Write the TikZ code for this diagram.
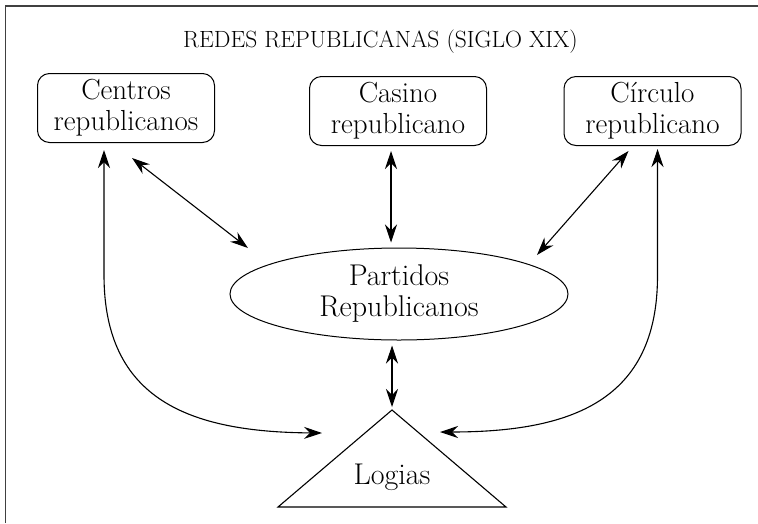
\documentclass[tikz,border=0pt]{standalone}
\usepackage{fontspec}
\usetikzlibrary{shapes.geometric, arrows.meta}
\begin{document}
\begin{tikzpicture}[x=1pt,y=-1pt,
  box/.style={draw, rounded corners=12pt, minimum width=177pt, minimum height=69pt,
    inner sep=0pt, align=center, font=\fontsize{29}{31}\selectfont, line width=1pt},
  oval/.style={draw, ellipse, minimum width=338pt, minimum height=92pt, inner sep=0pt,
    align=center, font=\fontsize{30}{31}\selectfont, line width=1pt},
  link/.style={{Stealth[length=18pt,width=12pt,inset=6pt]}-{Stealth[length=18pt,width=12pt,inset=6pt]}, line width=1.1pt},
  frame/.style={line width=1.5pt, black!75}
  ]
\useasboundingbox (0,0) rectangle (758,523);
\draw[frame] (5.5,523) -- (5.5,6) -- (758,6);

\node[anchor=base, font=\fontsize{23.5}{26}\selectfont] (title) at (380.5,47) {REDES REPUBLICANAS (SIGLO XIX)};

\node[box] (centros) at (126,108) {Centros\\republicanos};
\node[box] (casino) at (398,111) {Casino\\republicano};
\node[box] (circulo) at (652.5,111) {Círculo\\republicano};

\node[oval] (partidos) at (399,294) {Partidos\\Republicanos};

\coordinate (apex) at (392,410);
\coordinate (bl) at (278,507);
\coordinate (br) at (506,507);
\draw[line width=1.1pt] (apex) -- (br) -- (bl) -- cycle;
\node[anchor=base, font=\fontsize{30}{31}\selectfont] (logias) at (392,484) {Logias};

\draw[link] ([xshift=6pt,yshift=-15pt]centros.south) -- ([xshift=-151pt,yshift=46pt]partidos.center);
\draw[link] ([xshift=-7pt,yshift=-5pt]casino.south) -- ([xshift=-8pt,yshift=5pt]partidos.north);
\draw[link] ([xshift=-24pt,yshift=-5pt]circulo.south) -- ([xshift=138pt,yshift=39pt]partidos.center);
\draw[link] ([xshift=-7pt,yshift=-5pt]partidos.south) -- ([yshift=3pt]apex);

\draw[link] ([xshift=-22pt,yshift=-7pt]centros.south) -- ++(0,125)
  .. controls +(0,125) and ([xshift=-202pt,yshift=-22pt]apex) .. ([xshift=-70pt,yshift=-23pt]apex);
\draw[link] ([xshift=5pt,yshift=-3pt]circulo.south) -- ++(0,127)
  .. controls +(0,125) and ([xshift=179pt,yshift=-22pt]apex) .. ([xshift=48pt,yshift=-22pt]apex);
\end{tikzpicture}
\end{document}
